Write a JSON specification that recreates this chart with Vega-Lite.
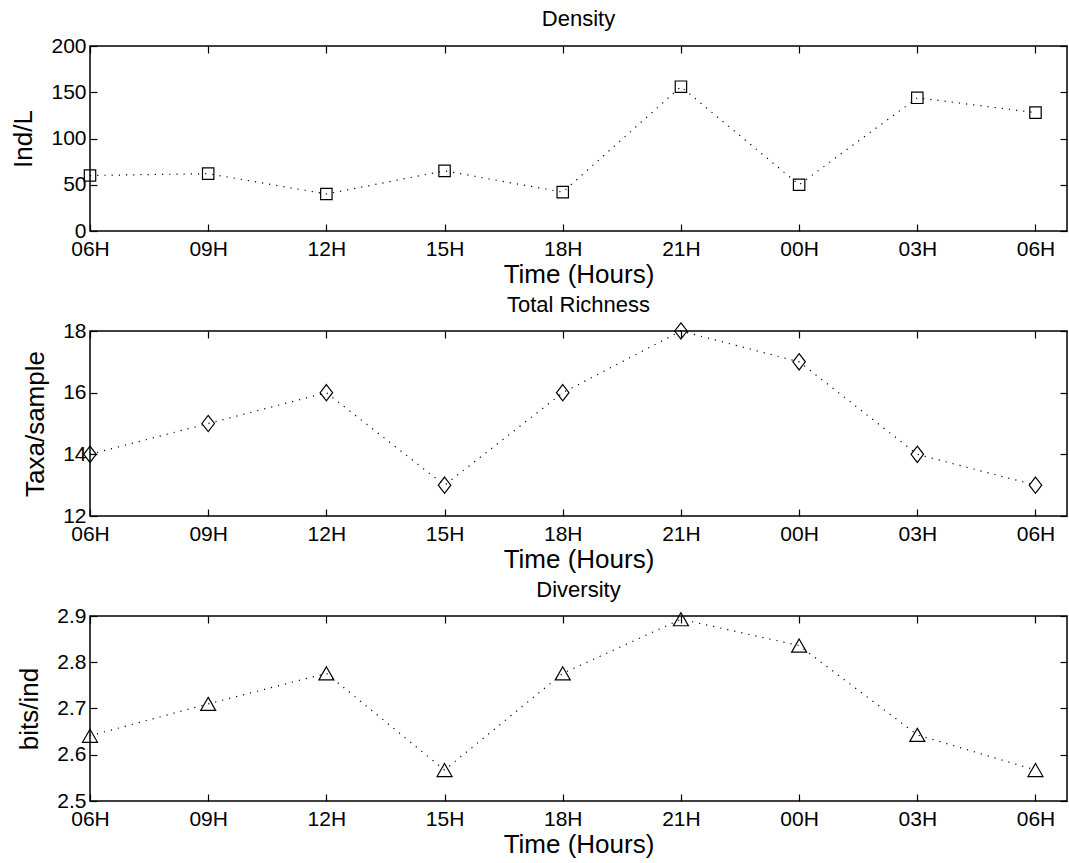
{
  "$schema": "https://vega.github.io/schema/vega-lite/v6.json",
  "background": "white",
  "padding": {"left": 10, "top": 7, "right": 0, "bottom": 0},
  "config": {
    "font": "Liberation Sans",
    "view": {"stroke": "black", "strokeWidth": 1.5},
    "axis": {
      "domain": false, "grid": false,
      "tickColor": "black", "tickSize": -7, "tickWidth": 1.2,
      "labelColor": "black", "titleColor": "black",
      "labelFontSize": 21, "titleFontSize": 26, "titleFontWeight": "normal",
      "labelFont": "Liberation Sans", "titleFont": "Liberation Sans"
    },
    "title": {"fontSize": 22, "fontWeight": "normal", "color": "black", "font": "Liberation Sans"},
    "concat": {"spacing": 5}
  },
  "datasets": {
    "density": [
      {"h": 0, "v": 60}, {"h": 3, "v": 62}, {"h": 6, "v": 40}, {"h": 9, "v": 65}, {"h": 12, "v": 42},
      {"h": 15, "v": 156}, {"h": 18, "v": 50}, {"h": 21, "v": 144}, {"h": 24, "v": 128}
    ],
    "richness": [
      {"h": 0, "v": 14}, {"h": 3, "v": 15}, {"h": 6, "v": 16}, {"h": 9, "v": 13}, {"h": 12, "v": 16},
      {"h": 15, "v": 18}, {"h": 18, "v": 17}, {"h": 21, "v": 14}, {"h": 24, "v": 13}
    ],
    "diversity": [
      {"h": 0, "v": 2.641}, {"h": 3, "v": 2.71}, {"h": 6, "v": 2.776}, {"h": 9, "v": 2.567}, {"h": 12, "v": 2.776},
      {"h": 15, "v": 2.893}, {"h": 18, "v": 2.836}, {"h": 21, "v": 2.643}, {"h": 24, "v": 2.567}
    ]
  },
  "vconcat": [
    {
      "width": 977, "height": 185,
      "title": {"text": "Density", "offset": 4},
      "data": {"name": "density"},
      "layer": [
        {
          "mark": {"type": "line", "strokeDash": [1.2, 6], "strokeWidth": 1.2, "color": "black"},
          "encoding": {
            "x": {"field": "h", "type": "quantitative", "scale": {"domain": [0, 24.8], "nice": false, "zero": false},
              "axis": {"orient": "bottom", "values": [0, 3, 6, 9, 12, 15, 18, 21, 24], "labelFlush": false, "labelPadding": 14, "titlePadding": 2, "title": "Time (Hours)",
                "labelExpr": "['06H','09H','12H','15H','18H','21H','00H','03H','06H'][round(datum.value/3)]"}},
            "y": {"field": "v", "type": "quantitative", "scale": {"domain": [0, 200], "nice": false},
              "axis": {"orient": "left", "values": [0, 50, 100, 150, 200], "labelPadding": 11, "titlePadding": 14, "title": "Ind/L"}}
          }
        },
        {
          "mark": {"type": "point", "shape": "square", "size": 130, "filled": false, "color": "black", "strokeWidth": 1.2, "opacity": 1},
          "encoding": {
            "x": {"field": "h", "type": "quantitative", "axis": {"orient": "top", "values": [0, 3, 6, 9, 12, 15, 18, 21, 24], "labels": false, "title": null}},
            "y": {"field": "v", "type": "quantitative", "axis": {"orient": "right", "values": [0, 50, 100, 150, 200], "labels": false, "title": null}}
          }
        }
      ],
      "resolve": {"axis": {"x": "independent", "y": "independent"}}
    },
    {
      "width": 977, "height": 185,
      "title": {"text": "Total Richness", "offset": 3},
      "data": {"name": "richness"},
      "layer": [
        {
          "mark": {"type": "line", "strokeDash": [1.2, 6], "strokeWidth": 1.2, "color": "black"},
          "encoding": {
            "x": {"field": "h", "type": "quantitative", "scale": {"domain": [0, 24.8], "nice": false, "zero": false},
              "axis": {"orient": "bottom", "values": [0, 3, 6, 9, 12, 15, 18, 21, 24], "labelFlush": false, "labelPadding": 14, "titlePadding": 2, "title": "Time (Hours)",
                "labelExpr": "['06H','09H','12H','15H','18H','21H','00H','03H','06H'][round(datum.value/3)]"}},
            "y": {"field": "v", "type": "quantitative", "scale": {"domain": [12, 18], "nice": false, "zero": false},
              "axis": {"orient": "left", "values": [12, 14, 16, 18], "labelPadding": 11, "titlePadding": 14, "title": "Taxa/sample"}}
          }
        },
        {
          "mark": {"type": "point", "shape": "M0,-1.3L1,0L0,1.3L-1,0Z", "size": 156, "filled": false, "color": "black", "strokeWidth": 1.2, "opacity": 1},
          "encoding": {
            "x": {"field": "h", "type": "quantitative", "axis": {"orient": "top", "values": [0, 3, 6, 9, 12, 15, 18, 21, 24], "labels": false, "title": null}},
            "y": {"field": "v", "type": "quantitative", "axis": {"orient": "right", "values": [12, 14, 16, 18], "labels": false, "title": null}}
          }
        }
      ],
      "resolve": {"axis": {"x": "independent", "y": "independent"}}
    },
    {
      "width": 977, "height": 185,
      "title": {"text": "Diversity", "offset": 3},
      "data": {"name": "diversity"},
      "layer": [
        {
          "mark": {"type": "line", "strokeDash": [1.2, 6], "strokeWidth": 1.2, "color": "black"},
          "encoding": {
            "x": {"field": "h", "type": "quantitative", "scale": {"domain": [0, 24.8], "nice": false, "zero": false},
              "axis": {"orient": "bottom", "values": [0, 3, 6, 9, 12, 15, 18, 21, 24], "labelFlush": false, "labelPadding": 14, "titlePadding": 2, "title": "Time (Hours)",
                "labelExpr": "['06H','09H','12H','15H','18H','21H','00H','03H','06H'][round(datum.value/3)]"}},
            "y": {"field": "v", "type": "quantitative", "scale": {"domain": [2.5, 2.9], "nice": false, "zero": false},
              "axis": {"orient": "left", "values": [2.5, 2.6, 2.7, 2.8, 2.9], "format": ".1f", "labelPadding": 11, "titlePadding": 14, "title": "bits/ind"}}
          }
        },
        {
          "mark": {"type": "point", "shape": "M0,-0.87L1,0.87L-1,0.87Z", "size": 225, "filled": false, "color": "black", "strokeWidth": 1.2, "opacity": 1},
          "encoding": {
            "x": {"field": "h", "type": "quantitative", "axis": {"orient": "top", "values": [0, 3, 6, 9, 12, 15, 18, 21, 24], "labels": false, "title": null}},
            "y": {"field": "v", "type": "quantitative", "axis": {"orient": "right", "values": [2.5, 2.6, 2.7, 2.8, 2.9], "labels": false, "title": null}}
          }
        }
      ],
      "resolve": {"axis": {"x": "independent", "y": "independent"}}
    }
  ]
}
